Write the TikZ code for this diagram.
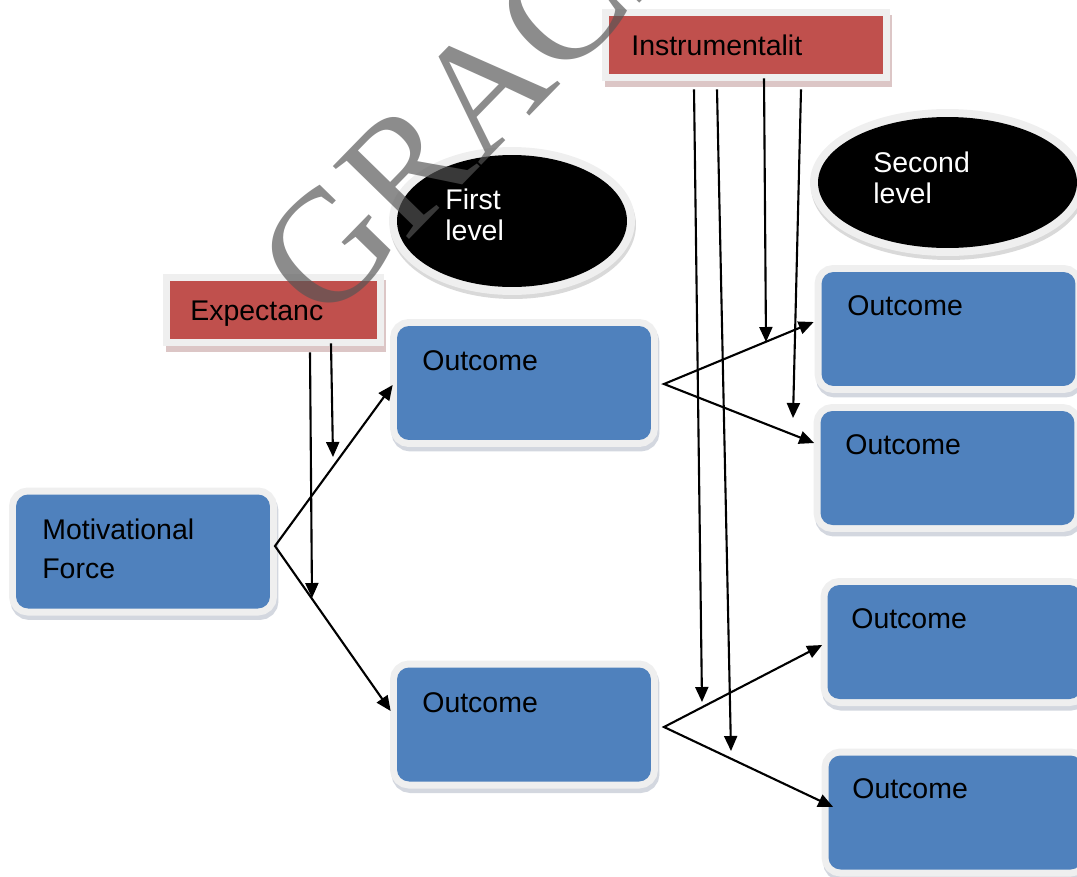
\documentclass[tikz,border=0pt]{standalone}
\usepackage{fontspec}
\setmainfont{Liberation Sans}
\newfontfamily\wmfont{Liberation Serif}
\usetikzlibrary{arrows.meta,calc,shapes.geometric}
\definecolor{boxblue}{HTML}{4F81BD}
\definecolor{boxred}{HTML}{C0504D}
\definecolor{rim}{HTML}{EFEFEF}
\definecolor{shblue}{HTML}{D3D7DF}
\definecolor{shred}{HTML}{DCC6C6}
\definecolor{shgray}{HTML}{D9D9D9}
\definecolor{wmgray}{RGB}{85,85,85}
\begin{document}
\begin{tikzpicture}[x=0.02cm,y=-0.02cm,
  outbox/.style={rectangle, rounded corners=0.24cm, fill=boxblue, draw=none, inner sep=0pt,
    minimum width=5.08cm, minimum height=2.28cm,
    preaction={draw=shblue, fill=shblue, line width=0.28cm, transform canvas={shift={(0.03cm,-0.09cm)}}},
    preaction={draw=rim, line width=0.28cm}},
  factorbox/.style={rectangle, fill=boxred, draw=none, inner sep=0pt, minimum height=1.16cm,
    preaction={draw=shred, fill=shred, line width=0.28cm, transform canvas={shift={(0.05cm,-0.12cm)}}},
    preaction={draw=rim, line width=0.28cm}},
  levelblob/.style={ellipse, fill=black, draw=none, inner sep=0pt,
    preaction={draw=shgray, fill=shgray, line width=0.32cm, transform canvas={shift={(0.02cm,-0.08cm)}}},
    preaction={draw=rim, line width=0.32cm}},
  txt/.style={anchor=base west, inner sep=0pt, align=left, font=\fontsize{16.2}{22.2}\selectfont},
  wtxt/.style={txt, text=white, font=\fontsize{16.2}{17.1}\selectfont},
  arr/.style={-{Triangle[length=0.3cm,width=0.26cm]}, line width=1.2pt, black},
  arrtwo/.style={{Triangle[length=0.3cm,width=0.26cm]}-{Triangle[length=0.3cm,width=0.26cm]}, line width=1.2pt, black},
  watermark/.style={anchor=base west, inner sep=0pt, rotate=45.7, text=wmgray, text opacity=0.68,
    font=\wmfont\fontsize{91.6}{91.6}\selectfont}
]
\useasboundingbox (0,0) rectangle (1077,876);
\clip (0,0) rectangle (1077,876);

% level ellipses
\node[levelblob, minimum width=4.6cm, minimum height=2.64cm] (L1) at (512,221) {};
\node[levelblob, minimum width=5.18cm, minimum height=2.62cm] (L2) at (947.5,182.5) {};
\node[wtxt] (L1t) at (445,240) {First\\level};
\node[wtxt] (L2t) at (873,203) {Second\\level};

% factor boxes
\node[factorbox, minimum width=4.14cm] (Exp) at (273.5,310) {};
\node[factorbox, minimum width=5.48cm] (Ins) at (746,45) {};
\node[txt] (Expt) at (190,320) {Expectanc};
\node[txt] (Inst) at (631,55) {Instrumentalit};

% outcome boxes
\node[outbox] (MF) at (143,551.5) {};
\node[outbox] (O1) at (524,383) {};
\node[outbox] (O2) at (524,724.5) {};
\node[outbox] (S1) at (948.5,329) {};
\node[outbox] (S2) at (947.5,468) {};
\node[outbox] (S3) at (954.5,642) {};
\node[outbox] (S4) at (955.5,812.5) {};

\node[txt] (MFt) at (42,578) {Motivational\\Force};
\node[txt] (O1t) at (422,370) {Outcome};
\node[txt] (O2t) at (422,712) {Outcome};
\node[txt] (S1t) at (847,315) {Outcome};
\node[txt] (S2t) at (845,454) {Outcome};
\node[txt] (S3t) at (851,628) {Outcome};
\node[txt] (S4t) at (852,798) {Outcome};

% branching connectors
\coordinate (mfA) at (275,546);
\coordinate (o1A) at (664,384);
\coordinate (o2A) at (664,727);
\draw[arrtwo] ($(O1.west)+(-4,2)$) -- (mfA) -- ($(O2.west)+(-6,-13.5)$);
\draw[arrtwo] ($(S1.west)+(-7.5,-7)$) -- (o1A) -- ($(S2.west)+(-6,-25)$);
\draw[arrtwo] ($(S3.west)+(-5,3)$) -- (o2A) -- ($(S4.west)+(5,-5.5)$);

% expectancy arrows
\coordinate (e1) at (312,598);
\coordinate (e2) at (333,457);
\draw[arr] ($(Exp.south)+(36.5,13)$) -- (e1);
\draw[arr] ($(Exp.south)+(57.5,4)$) -- (e2);

% instrumentality arrows
\coordinate (i1) at (702,702);
\coordinate (i2) at (731,751);
\coordinate (i3) at (766,342);
\coordinate (i4) at (793,418);
\draw[arr] ($(Ins.south)+(-52,15)$) -- (i1);
\draw[arr] ($(Ins.south)+(-29,15)$) -- (i2);
\draw[arr] ($(Ins.south)+(18,4)$) -- (i3);
\draw[arr] ($(Ins.south)+(55,15)$) -- (i4);

% watermark
\node[watermark] (wm) at (324,327) {GRACE};
\end{tikzpicture}
\end{document}
